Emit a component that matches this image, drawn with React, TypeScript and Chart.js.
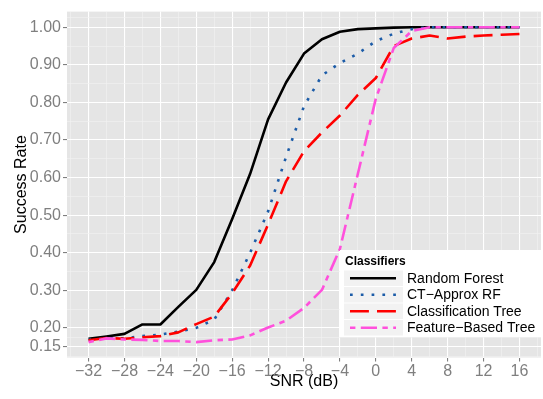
import React, { useEffect, useRef } from 'react';
import { Chart, registerables } from 'chart.js';

Chart.register(...registerables);

// ---- data ----
const snr = [-32, -30, -28, -26, -24, -22, -20, -18, -16, -14, -12, -10, -8, -6, -4, -2, 0, 2, 4, 6, 8, 10, 12, 14, 16];
const randomForest = [0.171, 0.177, 0.184, 0.209, 0.209, 0.256, 0.301, 0.375, 0.49, 0.61, 0.755, 0.853, 0.93, 0.968, 0.988, 0.995, 0.997, 0.999, 1.0, 1.0, 1.0, 1.0, 1.0, 1.0, 1.0];
const ctApproxRF = [0.168, 0.172, 0.172, 0.178, 0.182, 0.19, 0.2, 0.222, 0.3, 0.4, 0.51, 0.655, 0.79, 0.872, 0.905, 0.93, 0.963, 0.983, 0.995, 1.0, 1.0, 1.0, 1.0, 1.0, 1.0];
const classificationTree = [0.167, 0.173, 0.171, 0.175, 0.178, 0.188, 0.21, 0.23, 0.292, 0.366, 0.475, 0.59, 0.67, 0.72, 0.765, 0.82, 0.865, 0.95, 0.97, 0.978, 0.97, 0.975, 0.978, 0.98, 0.982];
const featureBasedTree = [0.162, 0.172, 0.169, 0.168, 0.165, 0.165, 0.162, 0.167, 0.169, 0.18, 0.201, 0.219, 0.253, 0.301, 0.41, 0.61, 0.81, 0.945, 0.99, 1.0, 1.0, 1.0, 1.0, 1.0, 1.0];

const seriesNames = ['Random Forest', 'CT\u2212Approx RF', 'Classification Tree', 'Feature\u2212Based Tree'];
const legendTitle = 'Classifiers';
const xTitle = 'SNR (dB)';
const yTitle = 'Success Rate';

const xMajorTicks = [-32, -28, -24, -20, -16, -12, -8, -4, 0, 4, 8, 12, 16];
const xMinorTicks = [-34, -30, -26, -22, -18, -14, -10, -6, -2, 2, 6, 10, 14, 18];
const yMajorTicks = [0.15, 0.2, 0.3, 0.4, 0.5, 0.6, 0.7, 0.8, 0.9, 1.0];
const yMinorTicks = [0.125, 0.175, 0.25, 0.35, 0.45, 0.55, 0.65, 0.75, 0.85, 0.95, 1.025];

const FONT = "'Liberation Sans', Arial, Helvetica, sans-serif";

const isIn = (arr: number[], v: number) => arr.some((a) => Math.abs(a - v) < 1e-6);

const panelBg = {
  id: 'panelBg',
  beforeDraw(chart: any) {
    const { ctx, chartArea } = chart;
    const { left, top, right, bottom } = chartArea;
    ctx.save();
    ctx.fillStyle = '#e5e5e5';
    ctx.fillRect(left, top, right - left, bottom - top);
    ctx.restore();
  },
};

const insideLegend = {
  id: 'insideLegend',
  afterDraw(chart: any) {
    const { ctx } = chart;
    const x0 = 340;
    const y0 = 250;
    const w = 203;
    const h = 87;
    ctx.save();
    ctx.fillStyle = '#ffffff';
    ctx.fillRect(x0, y0, w, h);
    ctx.fillStyle = '#000000';
    ctx.font = `bold 12px ${FONT}`;
    ctx.textBaseline = 'middle';
    ctx.textAlign = 'left';
    ctx.fillText(legendTitle, 345, 262);
    const rowTop = 270.5;
    const pitch = 16.5;
    chart.data.datasets.forEach((ds: any, i: number) => {
      const top = rowTop + i * pitch;
      ctx.fillStyle = '#f2f2f2';
      ctx.fillRect(344, top, 59, 15.5);
      const cy = top + 7.75;
      ctx.beginPath();
      ctx.strokeStyle = ds.borderColor;
      ctx.lineWidth = ds.borderWidth;
      ctx.lineCap = 'butt';
      ctx.setLineDash(ds.borderDash || []);
      ctx.moveTo(350, cy);
      ctx.lineTo(396, cy);
      ctx.stroke();
      ctx.setLineDash([]);
      ctx.fillStyle = '#000000';
      ctx.font = `14px ${FONT}`;
      ctx.fillText(ds.label, 407, cy + 0.5);
    });
    ctx.restore();
  },
};

const toPoints = (vals: number[]) => snr.map((x, i) => ({ x, y: vals[i] }));

export default function App() {
  const canvasRef = useRef<HTMLCanvasElement | null>(null);

  useEffect(() => {
    const canvas = canvasRef.current;
    if (!canvas) return;
    const chart = new Chart(canvas, {
      type: 'line',
      data: {
        datasets: [
          {
            label: seriesNames[0],
            data: toPoints(randomForest),
            borderColor: '#000000',
            borderWidth: 2.6,
            borderDash: [],
            order: 4,
          },
          {
            label: seriesNames[1],
            data: toPoints(ctApproxRF),
            borderColor: '#1c5ca8',
            borderWidth: 2.6,
            borderDash: [2.7, 8.1],
            order: 3,
          },
          {
            label: seriesNames[2],
            data: toPoints(classificationTree),
            borderColor: '#ff0000',
            borderWidth: 2.6,
            borderDash: [18.9, 8.1],
            order: 2,
          },
          {
            label: seriesNames[3],
            data: toPoints(featureBasedTree),
            borderColor: '#ff50dc',
            borderWidth: 2.6,
            borderDash: [5.4, 5.4, 16.2, 5.4],
            order: 1,
          },
        ].map((d) => ({
          ...d,
          fill: false,
          pointRadius: 0,
          pointHoverRadius: 0,
          tension: 0,
          borderCapStyle: 'butt' as const,
          borderJoinStyle: 'round' as const,
        })),
      },
      options: {
        animation: false,
        responsive: false,
        devicePixelRatio: 1,
        layout: { padding: { top: 4, right: 2, left: 0, bottom: 0 } },
        plugins: {
          legend: { display: false },
          tooltip: { enabled: false },
        },
        scales: {
          x: {
            type: 'linear',
            min: -34.4,
            max: 18.4,
            afterBuildTicks: (scale: any) => {
              scale.ticks = [...xMinorTicks, ...xMajorTicks].sort((a, b) => a - b).map((v) => ({ value: v }));
            },
            afterFit: (scale: any) => {
              scale.height = 41.5;
            },
            border: { display: false },
            grid: {
              color: (c: any) => (isIn(xMajorTicks, c.tick?.value) ? '#ffffff' : '#f2f2f2'),
              lineWidth: (c: any) => (isIn(xMajorTicks, c.tick?.value) ? 1.1 : 0.6),
              tickColor: (c: any) => (isIn(xMajorTicks, c.tick?.value) ? '#7f7f7f' : 'rgba(0,0,0,0)'),
              tickLength: 4,
              tickWidth: 1.1,
            },
            ticks: {
              autoSkip: false,
              maxRotation: 0,
              padding: 0,
              color: '#7f7f7f',
              font: { family: FONT, size: 16 },
              callback: (v: any) => {
                const n = Number(v);
                if (!isIn(xMajorTicks, n)) return '';
                return n < 0 ? '\u2212' + Math.abs(n) : String(n);
              },
            },
            title: {
              display: true,
              text: xTitle,
              color: '#000000',
              font: { family: FONT, size: 16 },
              padding: { top: 0, bottom: 7.7 },
            },
          },
          y: {
            type: 'linear',
            min: 0.1211,
            max: 1.0417,
            afterBuildTicks: (scale: any) => {
              scale.ticks = [...yMinorTicks, ...yMajorTicks].sort((a, b) => a - b).map((v) => ({ value: v }));
            },
            afterFit: (scale: any) => {
              scale.width = 67;
            },
            border: { display: false },
            grid: {
              color: (c: any) => (isIn(yMajorTicks, c.tick?.value) ? '#ffffff' : '#f2f2f2'),
              lineWidth: (c: any) => (isIn(yMajorTicks, c.tick?.value) ? 1.1 : 0.6),
              tickColor: (c: any) => (isIn(yMajorTicks, c.tick?.value) ? '#7f7f7f' : 'rgba(0,0,0,0)'),
              tickLength: 4,
              tickWidth: 1.1,
            },
            ticks: {
              autoSkip: false,
              padding: 2,
              color: '#7f7f7f',
              font: { family: FONT, size: 16 },
              callback: (v: any) => {
                const n = Number(v);
                if (!isIn(yMajorTicks, n)) return '';
                return n.toFixed(2);
              },
            },
            title: {
              display: true,
              text: yTitle,
              color: '#000000',
              font: { family: FONT, size: 16 },
              padding: { top: 12.4, bottom: 0 },
            },
          },
        },
      },
      plugins: [panelBg, insideLegend],
    } as any);
    return () => chart.destroy();
  }, []);

  return (
    <div style={{ position: 'fixed', left: 0, top: 0, width: 543, height: 399, background: '#ffffff' }}>
      <canvas ref={canvasRef} width={543} height={399} style={{ display: 'block', width: 543, height: 399 }} />
    </div>
  );
}
